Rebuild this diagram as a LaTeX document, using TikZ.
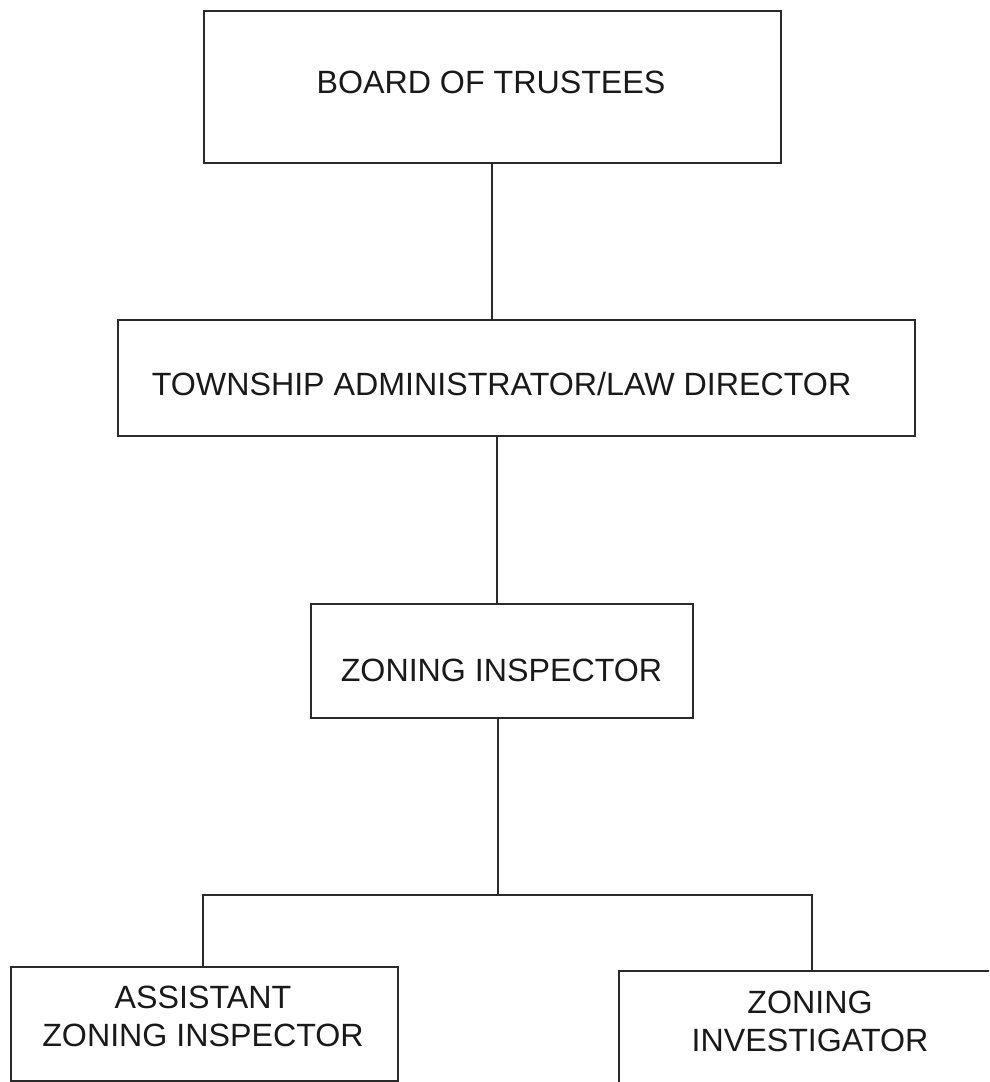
\documentclass[tikz,border=0pt]{standalone}
\usepackage{fontspec}
\setmainfont{Liberation Sans}
\definecolor{ink}{HTML}{2A2A2A}
\begin{document}
\begin{tikzpicture}[x=1pt,y=-1pt,
  box/.style={draw=ink, line width=2pt, inner sep=0pt, anchor=north west},
  lbl/.style={inner sep=0pt, align=center, text=black!90, font=\fontsize{32.2}{38}\selectfont},
  link/.style={draw=ink, line width=2pt}]
\useasboundingbox (0,0) rectangle (989,1082);
\clip (0,0) rectangle (989,1082);
% boxes
\node[box, minimum width=577pt, minimum height=152pt] (board) at (203,10) {};
\node[box, minimum width=797pt, minimum height=116pt] (admin) at (117,319) {};
\node[box, minimum width=382pt, minimum height=114pt] (zi) at (310,603) {};
\node[box, minimum width=387pt, minimum height=114pt] (azi) at (10,966) {};
\node[box, minimum width=384pt, minimum height=140pt] (inv) at (618,970) {};
% labels
\node[lbl] (tboard) at (491,82) {BOARD OF TRUSTEES};
\node[lbl] (tadmin) at (501.5,384) {TOWNSHIP ADMINISTRATOR/LAW DIRECTOR};
\node[lbl] (tzi) at (501.5,670) {ZONING INSPECTOR};
\node[lbl] (tazi) at (203,1016) {ASSISTANT\\ZONING INSPECTOR};
\node[lbl] (tinv) at (810,1021) {ZONING\\INVESTIGATOR};
% connectors
\coordinate (c1) at (492,0);
\coordinate (c2) at (497,0);
\coordinate (j) at (498,895);
\coordinate (k) at (812,895);
\draw[link] (board.south -| c1) -- (admin.north -| c1);
\draw[link] (admin.south -| c2) -- (zi.north -| c2);
\draw[link] (zi.south -| j) -- (j);
\draw[link] (azi.north -| 203,0) |- (k) -- (inv.north -| k);
\end{tikzpicture}
\end{document}
